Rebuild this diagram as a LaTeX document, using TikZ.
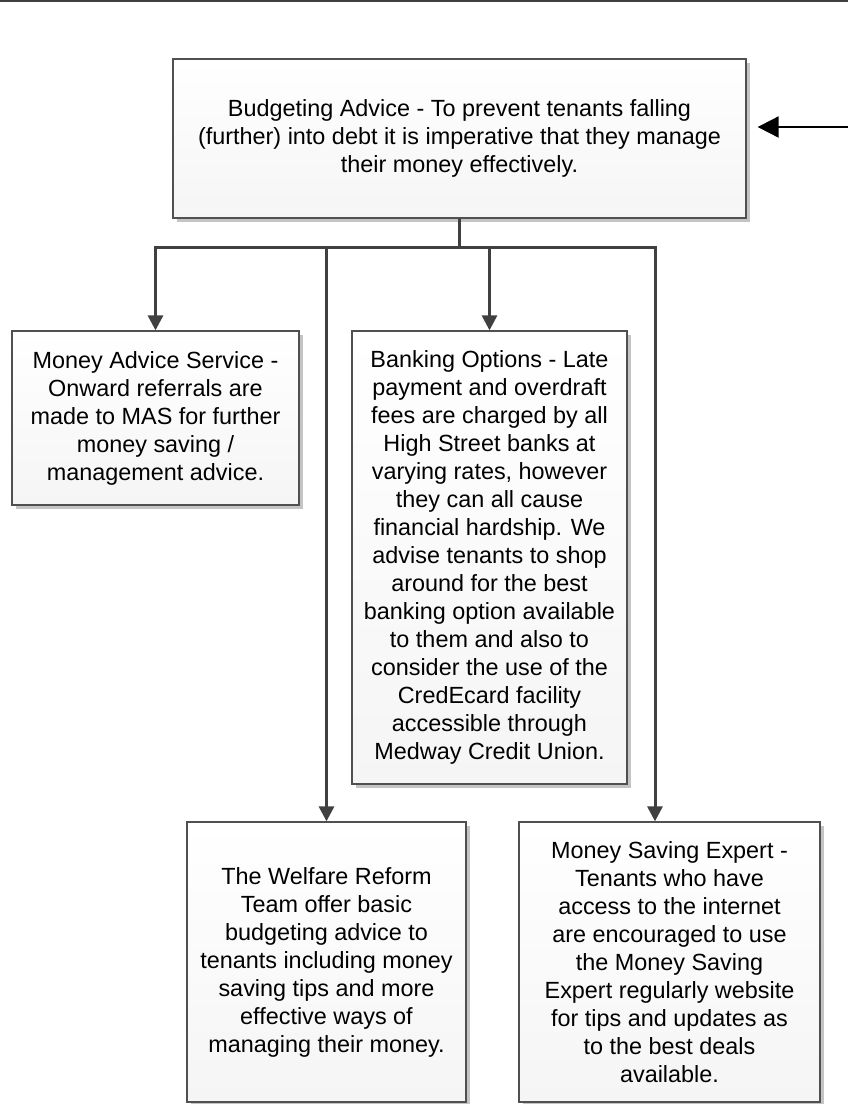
\documentclass[tikz,border=0pt]{standalone}
\usepackage{fontspec}
\setmainfont{Liberation Sans}
\usetikzlibrary{arrows.meta,shadows}
\definecolor{boxline}{HTML}{505050}
\definecolor{connline}{HTML}{404040}
\definecolor{boxfill}{HTML}{F5F5F5}
\definecolor{shadowgray}{HTML}{C4C4C4}
\begin{document}
\begin{tikzpicture}[x=1pt,y=-1pt,
  box/.style={draw=boxline, line width=1.3pt, top color=white, bottom color=boxfill,
    align=center, inner sep=0pt, font=\fontsize{23.4}{28}\selectfont,
    drop shadow={shadow xshift=4pt, shadow yshift=-4pt, fill=shadowgray, opacity=1}},
  trunk/.style={draw=connline, line width=3pt},
  conn/.style={draw=connline, line width=3pt, -{Triangle[length=15pt,width=15pt]}},
  feed/.style={draw=black, line width=2pt, -{Triangle[length=21pt,width=21pt]}}]
\useasboundingbox (0,0) rectangle (848,1104);
\fill[connline] (0,0) rectangle (848,2);

\node[box, minimum width=573pt, minimum height=159pt] (top) at (459.5,138.5)
  {Budgeting Advice - To prevent tenants falling\\(further) into debt it is imperative that they manage\\their money effectively.};
\node[box, minimum width=287pt, minimum height=174pt] (mas) at (155.5,418)
  {Money Advice Service -\\Onward referrals are\\made to MAS for further\\money saving /\\management advice.};
\node[box, minimum width=275pt, minimum height=453pt] (bank) at (489.5,557.5)
  {Banking Options - Late\\payment and overdraft\\fees are charged by all\\High Street banks at\\varying rates, however\\they can all cause\\financial hardship. We\\advise tenants to shop\\around for the best\\banking option available\\to them and also to\\consider the use of the\\CredEcard facility\\accessible through\\Medway Credit Union.};
\node[box, minimum width=279pt, minimum height=280pt] (wel) at (326.5,962)
  {The Welfare Reform\\Team offer basic\\budgeting advice to\\tenants including money\\saving tips and more\\effective ways of\\managing their money.};
\node[box, minimum width=301pt, minimum height=280pt] (mse) at (669.5,962)
  {Money Saving Expert -\\Tenants who have\\access to the internet\\are encouraged to use\\the Money Saving\\Expert regularly website\\for tips and updates as\\to the best deals\\available.};

\coordinate (j) at (459.5,247);
\coordinate (jl) at (mas.north |- j);
\coordinate (jr) at (655,247);
\draw[trunk] (top.south) -- (j);
\draw[trunk] ([xshift=-1.5pt]jl) -- ([xshift=1.5pt]jr);
\draw[conn] (jl) -- (mas.north);
\draw[conn] (wel.north |- j) -- (wel.north);
\draw[conn] (bank.north |- j) -- (bank.north);
\draw[conn] (jr) -- (jr |- mse.north);

\coordinate (src) at (848,127);
\draw[feed, shorten >=11pt] (src) -- (top.east |- src);
\end{tikzpicture}
\end{document}
